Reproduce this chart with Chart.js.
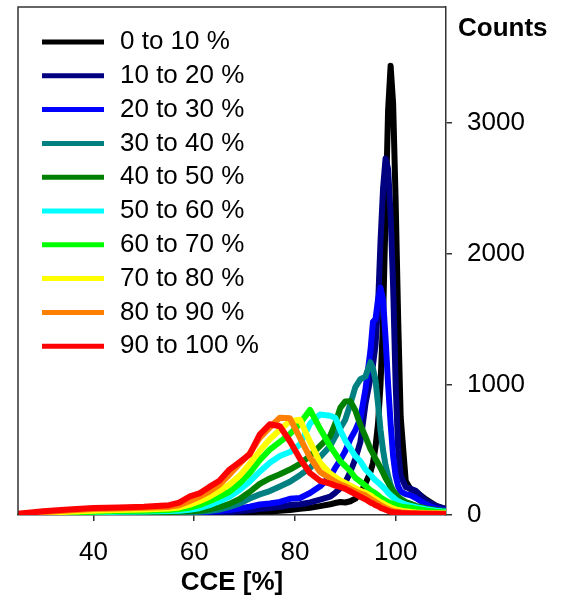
<!DOCTYPE html>
<html>
<head>
<meta charset="utf-8">
<script src="https://cdn.jsdelivr.net/npm/chart.js"></script>
<style>
  html, body { margin: 0; padding: 0; background: #fff; }
  #wrap { width: 561px; height: 596px; }
</style>
</head>
<body>
<div id="wrap"><canvas id="chart"></canvas></div>
<script>
// CCE bins (x, %) shared by every curve
const cce = [25, 30, 35, 40, 45, 50, 55, 57, 59, 61, 63, 65, 67, 69, 71, 73, 75, 77, 79, 81, 83, 85,
  87, 88, 89, 90, 91, 92, 93, 94, 95, 95.5, 96, 96.5, 97, 97.5, 98, 98.5, 99, 99.5, 100, 100.5, 101,
  102, 103, 104, 106, 108, 110];

const seriesLabels = ['0 to 10 %', '10 to 20 %', '20 to 30 %', '30 to 40 %', '40 to 50 %',
  '50 to 60 %', '60 to 70 %', '70 to 80 %', '80 to 90 %', '90 to 100 %'];
const seriesColors = ['#000000', '#000080', '#0000ff', '#008080', '#008000',
  '#00ffff', '#00ff00', '#ffff00', '#ff8000', '#ff0000'];

// counts per bin
const p0to10 = [0, 0, 1, 2, 3, 4, 5, 6, 7, 8, 10, 12, 16, 15, 20, 26, 27, 33, 38, 47, 55, 68,
  82, 92, 100, 96, 105, 125, 170, 240, 330, 400, 520, 700, 1000, 1500, 2300, 3100, 3440, 3150, 2400, 1500, 750,
  260, 195, 180, 120, 70, 45];
const p10to20 = [0, 1, 2, 3, 4, 5, 7, 8, 10, 12, 15, 19, 22, 29, 36, 46, 53, 63, 77, 82, 96, 118,
  140, 170, 205, 250, 330, 430, 560, 850, 1050, 1150, 1300, 1600, 2100, 2500, 2730, 2650, 2300, 1750, 1000, 500, 300,
  215, 200, 185, 110, 70, 45];
const p20to30 = [1, 2, 4, 6, 8, 10, 12, 14, 17, 20, 25, 31, 39, 50, 63, 80, 88, 100, 124, 130, 168, 220,
  295, 360, 420, 490, 580, 650, 740, 960, 1260, 1480, 1500, 1650, 1740, 1650, 1350, 1000, 700, 450, 300, 220, 180,
  160, 150, 130, 80, 50, 35];
const p30to40 = [1, 3, 6, 9, 11, 13, 15, 17, 20, 24, 31, 42, 62, 88, 126, 158, 183, 218, 255, 305, 360, 445,
  527, 600, 665, 730, 850, 980, 1040, 1060, 1170, 1120, 1030, 850, 650, 495, 380, 300, 230, 185, 160, 135, 112,
  88, 72, 62, 45, 32, 22];
const p40to50 = [2, 5, 10, 14, 17, 20, 22, 25, 28, 33, 43, 60, 85, 122, 176, 238, 280, 312, 348, 392, 452, 530,
  605, 700, 820, 870, 872, 800, 690, 600, 505, 470, 430, 398, 360, 322, 282, 250, 212, 185, 160, 140, 124,
  100, 85, 70, 50, 38, 30];
const p50to60 = [3, 8, 14, 20, 24, 27, 30, 33, 40, 52, 75, 105, 140, 192, 255, 332, 400, 452, 482, 540, 700, 770,
  760, 745, 650, 570, 512, 450, 411, 350, 310, 285, 265, 250, 232, 214, 195, 170, 152, 135, 118, 105, 96,
  80, 70, 60, 45, 32, 25];
const p60to70 = [4, 10, 18, 25, 30, 33, 38, 45, 55, 76, 105, 140, 178, 242, 320, 420, 500, 560, 620, 700, 805, 660,
  527, 470, 412, 375, 335, 285, 255, 225, 190, 178, 165, 150, 135, 122, 110, 100, 92, 85, 78, 72, 66,
  60, 55, 48, 35, 25, 20];
const p70to80 = [5, 15, 25, 33, 38, 42, 50, 58, 78, 105, 140, 185, 233, 300, 392, 490, 580, 652, 718, 730, 560, 400,
  318, 290, 265, 245, 225, 205, 185, 170, 150, 135, 122, 110, 98, 88, 78, 68, 58, 50, 44, 38, 34,
  28, 24, 20, 16, 14, 12];
const p80to90 = [8, 22, 35, 45, 50, 55, 62, 75, 105, 140, 180, 232, 310, 392, 470, 590, 670, 745, 740, 590, 440, 330,
  279, 255, 235, 220, 200, 180, 165, 150, 125, 112, 100, 88, 75, 65, 55, 45, 38, 32, 28, 25, 22,
  18, 16, 14, 12, 10, 10];
const p90to100 = [10, 28, 42, 54, 58, 63, 75, 95, 140, 165, 215, 262, 348, 405, 465, 615, 695, 680, 565, 430, 320, 262,
  240, 225, 215, 200, 180, 160, 140, 120, 95, 88, 75, 68, 55, 48, 40, 32, 25, 22, 20, 18, 16,
  14, 12, 12, 10, 10, 8];

const seriesValues = [p0to10, p10to20, p20to30, p30to40, p40to50, p50to60, p60to70, p70to80, p80to90, p90to100];

const xTicks = [40, 60, 80, 100];
const yTicks = [0, 1000, 2000, 3000];

const FONT = "'Liberation Sans', Arial, Helvetica, sans-serif";
Chart.defaults.font.family = FONT;
Chart.defaults.color = '#000';

const datasets = seriesValues.map((vals, i) => ({
  label: seriesLabels[i],
  data: vals.map((v, k) => ({ x: cce[k], y: v })),
  borderColor: seriesColors[i],
  backgroundColor: seriesColors[i],
  borderWidth: 6,
  borderJoinStyle: 'round',
  borderCapStyle: 'round',
  pointRadius: 0,
  tension: 0,
  order: seriesValues.length - 1 - i   // red ends up on top
}));

// frame, right-hand "Counts" label and the legend inside the plot
const extras = {
  id: 'extras',
  afterDraw(chart) {
    const { ctx, chartArea: a } = chart;
    ctx.save();
    ctx.strokeStyle = '#333';
    ctx.lineWidth = 1.5;
    ctx.beginPath();
    ctx.moveTo(a.left, a.bottom);
    ctx.lineTo(a.left, a.top);
    ctx.lineTo(a.right, a.top);
    ctx.stroke();

    ctx.fillStyle = '#000';
    ctx.textBaseline = 'middle';
    ctx.textAlign = 'left';
    ctx.font = 'bold 26px ' + FONT;
    ctx.fillText('Counts', 458, 29);

    ctx.font = '26px ' + FONT;
    seriesLabels.forEach((lab, i) => {
      const y = 42 + i * 33.8;
      ctx.strokeStyle = seriesColors[i];
      ctx.lineWidth = 5;
      ctx.beginPath();
      ctx.moveTo(42, y);
      ctx.lineTo(104, y);
      ctx.stroke();
      ctx.fillText(lab, 120, y);
    });
    ctx.restore();
  }
};

new Chart(document.getElementById('chart'), {
  type: 'line',
  data: { datasets },
  options: {
    responsive: true,
    maintainAspectRatio: false,
    animation: false,
    layout: { padding: { left: 18, top: 7, right: 0, bottom: 0 } },
    plugins: { legend: { display: false }, tooltip: { enabled: false } },
    scales: {
      x: {
        type: 'linear',
        position: 'bottom',
        min: 25,
        max: 110,
        afterBuildTicks: s => { s.ticks = xTicks.map(v => ({ value: v })); },
        afterFit: s => { s.height = 81; s.paddingLeft = 0; s.paddingRight = 0; },
        ticks: { font: { size: 26 }, padding: 16, maxRotation: 0, color: '#000', callback: v => String(v) },
        grid: { drawOnChartArea: false, tickLength: 6, color: '#333', lineWidth: 1.5 },
        border: { color: '#333', width: 1.5 },
        title: { display: true, text: 'CCE [%]', font: { size: 26, weight: 'bold', lineHeight: 1 }, padding: 0, color: '#000' }
      },
      y: {
        type: 'linear',
        position: 'right',
        min: 0,
        max: 3890,
        afterBuildTicks: s => { s.ticks = yTicks.map(v => ({ value: v })); },
        afterFit: s => { s.width = 115; s.paddingTop = 0; s.paddingBottom = 0; },
        ticks: { font: { size: 26 }, padding: 15, color: '#000', callback: v => String(v) },
        grid: { drawOnChartArea: false, tickLength: 6, color: '#333', lineWidth: 1.5 },
        border: { color: '#333', width: 1.5 }
      }
    }
  },
  plugins: [extras]
});
</script>
</body>
</html>
